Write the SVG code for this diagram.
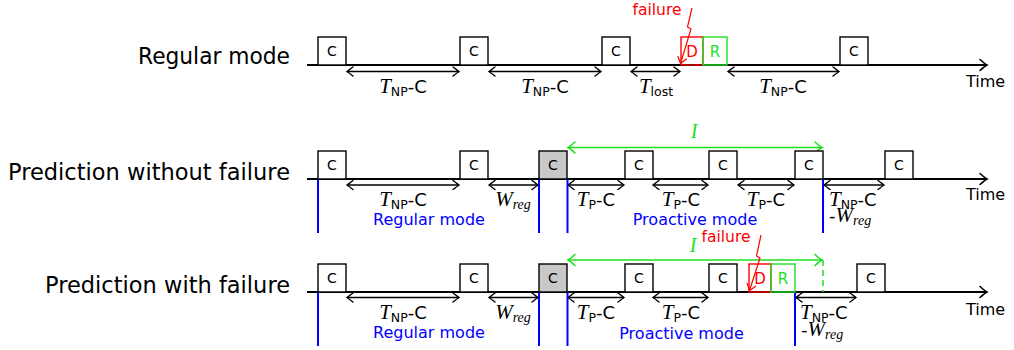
<svg xmlns="http://www.w3.org/2000/svg" width="1014" height="350" viewBox="0 0 1014 350">
<style>
text{font-family:"DejaVu Sans",sans-serif;}
.big{font-size:22.4px;fill:#000;text-anchor:end;}
.box{fill:#fff;stroke:#000;stroke-width:1.4;}
.gray{fill:#c8c8c8;stroke:#000;stroke-width:1.4;}
.dbox{fill:none;stroke:#f00;stroke-width:1.4;}
.rbox{fill:none;stroke:#1ee01e;stroke-width:1.4;}
.ct{font-size:14px;text-anchor:middle;fill:#000;}
.axis{stroke:#000;stroke-width:2;fill:none;}
.dbl{stroke:#000;stroke-width:1.4;fill:none;marker-start:url(#ah);marker-end:url(#ah);}
.grn{stroke:#1ee01e;stroke-width:1.5;fill:none;}
.blue{stroke:#00f;stroke-width:2;}
.lab{font-size:18px;fill:#000;text-anchor:middle;}
.labs{font-size:18px;fill:#000;}
.mi{font-family:"Liberation Serif",serif;font-style:italic;font-size:21px;}
.sub{font-size:12.5px;}
.misub{font-family:"Liberation Serif",serif;font-style:italic;font-size:14px;}
.mode{font-size:16px;fill:#00f;text-anchor:middle;}
.fail{font-size:15.5px;fill:#f00;text-anchor:middle;}
.time{font-size:16px;fill:#000;}
.itxt{font-family:"Liberation Serif",serif;font-style:italic;font-size:20px;fill:#1ee01e;text-anchor:middle;}
</style>
<defs>
<marker id="ah" viewBox="-8 -6 9 12" refX="0" refY="0" markerWidth="9" markerHeight="12" orient="auto-start-reverse" markerUnits="userSpaceOnUse" overflow="visible"><path d="M-6,-4.5 Q-1.5,-1 0,0 Q-1.5,1 -6,4.5" fill="none" stroke="#000" stroke-width="1.4" stroke-linecap="round"/></marker>
<marker id="ax" viewBox="-10 -7 11 14" refX="0" refY="0" markerWidth="11" markerHeight="14" orient="auto" markerUnits="userSpaceOnUse" overflow="visible"><path d="M-7,-5.5 Q-2,-1 0,0 Q-2,1 -7,5.5" fill="none" stroke="#000" stroke-width="1.6" stroke-linecap="round"/></marker>
<marker id="ag" viewBox="-10 -7 11 14" refX="0" refY="0" markerWidth="11" markerHeight="14" orient="auto-start-reverse" markerUnits="userSpaceOnUse" overflow="visible"><path d="M-7,-5.5 Q-2,-1 0,0 Q-2,1 -7,5.5" fill="none" stroke="#1ee01e" stroke-width="1.5" stroke-linecap="round"/></marker>
<marker id="ar" viewBox="-10 -7 11 14" refX="0" refY="0" markerWidth="11" markerHeight="14" orient="auto" markerUnits="userSpaceOnUse" overflow="visible"><path d="M-6,-4.5 Q-1.5,-1 0,0 Q-1.5,1 -6,4.5" fill="none" stroke="#f00" stroke-width="1.2" stroke-linecap="round"/></marker>
</defs>

<!-- row labels -->
<text id="row1-label" class="big" x="290" y="64" textLength="152" lengthAdjust="spacingAndGlyphs">Regular mode</text>
<text id="row2-label" class="big" x="290" y="180" textLength="282" lengthAdjust="spacingAndGlyphs">Prediction without failure</text>
<text id="row3-label" class="big" x="290" y="293" textLength="245" lengthAdjust="spacingAndGlyphs">Prediction with failure</text>

<!-- connectors -->
<g id="connectors">
  <!-- axes -->
  <line class="axis" x1="307" y1="65" x2="987" y2="65" marker-end="url(#ax)"/>
  <line class="axis" x1="307" y1="179" x2="987" y2="179" marker-end="url(#ax)"/>
  <line class="axis" x1="307" y1="292" x2="987" y2="292" marker-end="url(#ax)"/>
  <!-- row 1 intervals -->
  <line class="dbl" x1="347" y1="71.5" x2="459" y2="71.5"/>
  <line class="dbl" x1="489" y1="71.5" x2="601" y2="71.5"/>
  <line class="dbl" x1="631" y1="71.5" x2="680" y2="71.5"/>
  <line class="dbl" x1="728" y1="71.5" x2="839" y2="71.5"/>
  <!-- row 2 intervals -->
  <line class="dbl" x1="347" y1="185" x2="459" y2="185"/>
  <line class="dbl" x1="489" y1="185" x2="538" y2="185"/>
  <line class="dbl" x1="568" y1="185" x2="624" y2="185"/>
  <line class="dbl" x1="653" y1="185" x2="708" y2="185"/>
  <line class="dbl" x1="738" y1="185" x2="794" y2="185"/>
  <line class="dbl" x1="824" y1="185" x2="884" y2="185"/>
  <!-- row 3 intervals -->
  <line class="dbl" x1="347" y1="297.5" x2="459" y2="297.5"/>
  <line class="dbl" x1="489" y1="297.5" x2="538" y2="297.5"/>
  <line class="dbl" x1="568" y1="297.5" x2="624" y2="297.5"/>
  <line class="dbl" x1="653" y1="297.5" x2="708" y2="297.5"/>
  <line class="dbl" x1="796" y1="297.5" x2="856" y2="297.5"/>
  <!-- blue mode separators -->
  <line class="blue" x1="318" y1="179" x2="318" y2="233"/>
  <line class="blue" x1="539" y1="179" x2="539" y2="233"/>
  <line class="blue" x1="567.5" y1="179" x2="567.5" y2="233"/>
  <line class="blue" x1="823" y1="179" x2="823" y2="233"/>
  <line class="blue" x1="318" y1="292" x2="318" y2="346"/>
  <line class="blue" x1="539" y1="292" x2="539" y2="346"/>
  <line class="blue" x1="567.5" y1="292" x2="567.5" y2="346"/>
  <line class="blue" x1="795" y1="292" x2="795" y2="346"/>
  <!-- green I interval -->
  <line class="grn" x1="568" y1="147.5" x2="822" y2="147.5" marker-start="url(#ag)" marker-end="url(#ag)"/>
  <line class="grn" x1="568" y1="260" x2="822" y2="260" marker-start="url(#ag)" marker-end="url(#ag)"/>
  <line class="grn" x1="823" y1="260" x2="823" y2="292" stroke-dasharray="6,4"/>
  <!-- failure lightning -->
  <polyline points="692,8 687.5,27 691,29 680.5,63.5" fill="none" stroke="#f00" stroke-width="1.2" marker-end="url(#ar)"/>
  <polyline points="761,235 756.5,256 760,258 749.5,290.5" fill="none" stroke="#f00" stroke-width="1.2" marker-end="url(#ar)"/>
</g>

<!-- row 1 nodes -->
<g id="r1-c1"><rect class="box" x="318" y="37" width="28" height="28"/><text class="ct" x="332" y="56">C</text></g>
<g id="r1-c2"><rect class="box" x="460" y="37" width="28" height="28"/><text class="ct" x="474" y="56">C</text></g>
<g id="r1-c3"><rect class="box" x="602" y="37" width="28" height="28"/><text class="ct" x="616" y="56">C</text></g>
<g id="r1-d"><rect class="dbox" x="681" y="37" width="22" height="28"/><text class="ct" x="692" y="57" style="fill:#f00;font-size:15px">D</text></g>
<g id="r1-r"><rect class="rbox" x="703" y="37" width="24" height="28"/><text class="ct" x="715" y="57" style="fill:#1ee01e;font-size:15px">R</text></g>
<g id="r1-c4"><rect class="box" x="840" y="37" width="28" height="28"/><text class="ct" x="854" y="56">C</text></g>

<!-- row 2 nodes -->
<g id="r2-c1"><rect class="box" x="318" y="151" width="28" height="28"/><text class="ct" x="332" y="170">C</text></g>
<g id="r2-c2"><rect class="box" x="460" y="151" width="28" height="28"/><text class="ct" x="474" y="170">C</text></g>
<g id="r2-c3"><rect class="gray" x="539" y="151" width="28" height="28"/><text class="ct" x="553" y="170">C</text></g>
<g id="r2-c4"><rect class="box" x="625" y="151" width="28" height="28"/><text class="ct" x="639" y="170">C</text></g>
<g id="r2-c5"><rect class="box" x="709" y="151" width="28" height="28"/><text class="ct" x="723" y="170">C</text></g>
<g id="r2-c6"><rect class="box" x="795" y="151" width="28" height="28"/><text class="ct" x="809" y="170">C</text></g>
<g id="r2-c7"><rect class="box" x="885" y="151" width="28" height="28"/><text class="ct" x="899" y="170">C</text></g>

<!-- row 3 nodes -->
<g id="r3-c1"><rect class="box" x="318" y="264" width="28" height="28"/><text class="ct" x="332" y="283">C</text></g>
<g id="r3-c2"><rect class="box" x="460" y="264" width="28" height="28"/><text class="ct" x="474" y="283">C</text></g>
<g id="r3-c3"><rect class="gray" x="539" y="264" width="28" height="28"/><text class="ct" x="553" y="283">C</text></g>
<g id="r3-c4"><rect class="box" x="625" y="264" width="28" height="28"/><text class="ct" x="639" y="283">C</text></g>
<g id="r3-c5"><rect class="box" x="709" y="264" width="28" height="28"/><text class="ct" x="723" y="283">C</text></g>
<g id="r3-d"><rect class="dbox" x="749" y="264" width="22" height="28"/><text class="ct" x="760" y="284" style="fill:#f00;font-size:15px">D</text></g>
<g id="r3-r"><rect class="rbox" x="771" y="264" width="24" height="28"/><text class="ct" x="783" y="284" style="fill:#1ee01e;font-size:15px">R</text></g>
<g id="r3-c6"><rect class="box" x="857" y="264" width="28" height="28"/><text class="ct" x="871" y="283">C</text></g>

<!-- labels row 1 -->
<g id="labels-r1">
  <text class="lab" x="403" y="93"><tspan class="mi">T</tspan><tspan class="sub" dy="2.5">NP</tspan><tspan dy="-2.5">-C</tspan></text>
  <text class="lab" x="545" y="93"><tspan class="mi">T</tspan><tspan class="sub" dy="2.5">NP</tspan><tspan dy="-2.5">-C</tspan></text>
  <text class="lab" x="656" y="93"><tspan class="mi">T</tspan><tspan class="sub" dy="2.5">lost</tspan></text>
  <text class="lab" x="783" y="93"><tspan class="mi">T</tspan><tspan class="sub" dy="2.5">NP</tspan><tspan dy="-2.5">-C</tspan></text>
  <text class="fail" x="657" y="15">failure</text>
  <text class="time" x="966" y="87">Time</text>
</g>

<!-- labels row 2 -->
<g id="labels-r2">
  <text class="lab" x="403" y="206"><tspan class="mi">T</tspan><tspan class="sub" dy="2.5">NP</tspan><tspan dy="-2.5">-C</tspan></text>
  <text class="lab" x="513" y="206"><tspan class="mi">W</tspan><tspan class="misub" dy="2.5">reg</tspan></text>
  <text class="lab" x="596" y="206"><tspan class="mi">T</tspan><tspan class="sub" dy="2.5">P</tspan><tspan dy="-2.5">-C</tspan></text>
  <text class="lab" x="681" y="206"><tspan class="mi">T</tspan><tspan class="sub" dy="2.5">P</tspan><tspan dy="-2.5">-C</tspan></text>
  <text class="lab" x="766" y="206"><tspan class="mi">T</tspan><tspan class="sub" dy="2.5">P</tspan><tspan dy="-2.5">-C</tspan></text>
  <text class="labs" x="829" y="206"><tspan class="mi">T</tspan><tspan class="sub" dy="2.5">NP</tspan><tspan dy="-2.5">-C</tspan></text>
  <text class="labs" x="829" y="222">-<tspan class="mi">W</tspan><tspan class="misub" dy="2.5">reg</tspan></text>
  <text class="mode" x="429" y="225">Regular mode</text>
  <text class="mode" x="695" y="225">Proactive mode</text>
  <text class="itxt" x="694" y="138">I</text>
  <text class="time" x="966" y="200">Time</text>
</g>

<!-- labels row 3 -->
<g id="labels-r3">
  <text class="lab" x="403" y="319"><tspan class="mi">T</tspan><tspan class="sub" dy="2.5">NP</tspan><tspan dy="-2.5">-C</tspan></text>
  <text class="lab" x="513" y="319"><tspan class="mi">W</tspan><tspan class="misub" dy="2.5">reg</tspan></text>
  <text class="lab" x="596" y="319"><tspan class="mi">T</tspan><tspan class="sub" dy="2.5">P</tspan><tspan dy="-2.5">-C</tspan></text>
  <text class="lab" x="681" y="319"><tspan class="mi">T</tspan><tspan class="sub" dy="2.5">P</tspan><tspan dy="-2.5">-C</tspan></text>
  <text class="labs" x="800" y="319"><tspan class="mi">T</tspan><tspan class="sub" dy="2.5">NP</tspan><tspan dy="-2.5">-C</tspan></text>
  <text class="labs" x="801" y="336">-<tspan class="mi">W</tspan><tspan class="misub" dy="2.5">reg</tspan></text>
  <text class="mode" x="429" y="338">Regular mode</text>
  <text class="mode" x="681.5" y="339">Proactive mode</text>
  <text class="itxt" x="693" y="252">I</text>
  <text class="fail" x="726" y="242">failure</text>
  <text class="time" x="966" y="315">Time</text>
</g>
</svg>
